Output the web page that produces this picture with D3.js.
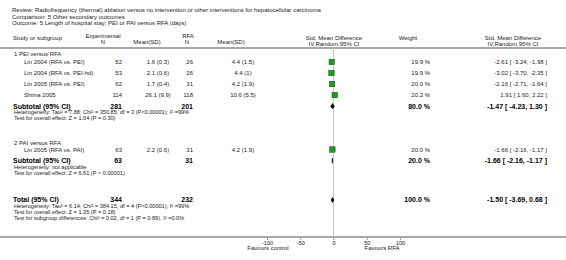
<!DOCTYPE html>
<html>
<head>
<meta charset="utf-8">
<script src="https://cdn.jsdelivr.net/npm/d3@7"></script>
<style>
  body { margin: 0; background: #fff; }
  svg { display: block; }
  text { font-family: "Liberation Sans", Arial, sans-serif; fill: #222; }
  .bold { font-weight: bold; fill: #000; }
</style>
</head>
<body>
<svg id="mainFrame"></svg>
<script>
// ---- data ----
const titleLines = [
    'Review:  Radiofrequency (thermal) ablation versus no intervention or other interventions for hepatocellular carcinoma',
    'Comparison:  5 Other secondary outcomes',
    'Outcome:  5 Length of hospital stay; PEI or PAI versus RFA (days)'
]
const groupNames = ['1 PEI versus RFA', '2 PAI versus RFA']
const studies = ['Lin 2004 (RFA vs. PEI)', 'Lin 2004 (RFA vs. PEI-hd)', 'Lin 2005 (RFA vs. PEI)', 'Shiina 2005', 'Lin 2005 (RFA vs. PAI)']
const studyGroup = [0, 0, 0, 0, 1]
const expN = [52, 53, 62, 114, 63]
const expMean = [1.6, 2.1, 1.7, 26.1, 2.2]
const expSD = [0.3, 0.6, 0.4, 9.9, 0.6]
const rfaN = [26, 26, 31, 118, 31]
const rfaMean = [4.4, 4.4, 4.2, 10.6, 4.2]
const rfaSD = [1.5, 1, 1.9, 5.5, 1.9]
const weights = [19.9, 19.9, 20.0, 20.2, 20.0]
const smd = [-2.61, -3.02, -2.16, 1.91, -1.66]
const ciLow = [-3.24, -3.70, -2.71, 1.60, -2.16]
const ciHigh = [-1.98, -2.35, -1.64, 2.22, -1.17]

const subExpN = [281, 63]
const subRfaN = [201, 31]
const subWeight = [80.0, 20.0]
const subSmd = [-1.47, -1.66]
const subLow = [-4.23, -2.16]
const subHigh = [1.30, -1.17]
const subHet = [
    'Heterogeneity: Tau² = 7.88; Chi² = 350.85, df = 3 (P<0.00001); I² =99%',
    'Heterogeneity: not applicable'
]
const subTest = [
    'Test for overall effect: Z = 1.04 (P = 0.30)',
    'Test for overall effect: Z = 6.61 (P < 0.00001)'
]

const totalExpN = 344
const totalRfaN = 232
const totalWeight = 100.0
const totalSmd = -1.50
const totalLow = -3.69
const totalHigh = 0.68
const totalNotes = [
    'Heterogeneity: Tau² = 6.14; Chi² = 384.15, df = 4 (P<0.00001); I² =99%',
    'Test for overall effect: Z = 1.35 (P = 0.18)',
    'Test for subgroup differences: Chi² = 0.02, df = 1 (P = 0.89), I² =0.0%'
]
const tickValues = [-100, -50, 0, 50, 100]

// ---- layout ----
const width = 566, height = 260
const svg = d3.select('#mainFrame')
    .attr('width', width)
    .attr('height', height)

const col = {
    name: 13, study: 24, expN: 122, expMean: 158, rfaN: 193, rfaMean: 243,
    weight: 430, ci: 547
}
const plotTop = 48, plotBottom = 237

const x = d3.scaleLinear().domain([-100, 100]).range([267, 400])

const fmt2 = v => v.toFixed(2)
const ciText = (m, l, h) => `${fmt2(m)} [ ${fmt2(l)}, ${fmt2(h)} ]`
const wText = w => `${w.toFixed(1)} %`

const addText = (g, str, px, py, opts = {}) => g.append('text')
    .attr('x', px)
    .attr('y', py)
    .attr('dy', '0.35em')
    .attr('font-size', opts.size || 6)
    .attr('text-anchor', opts.anchor || 'start')
    .attr('class', opts.bold ? 'bold' : null)
    .text(str)

// title block
titleLines.forEach((t, i) => addText(svg, t, 12, 10 + i * 6.5, {size: 6}))

// header
const head = svg.append('g')
addText(head, 'Study or subgroup', col.name, 38)
addText(head, 'Experimental', 103, 35.5, {anchor: 'middle'})
addText(head, 'N', 103, 42, {anchor: 'middle'})
addText(head, 'Mean(SD)', 147, 42, {anchor: 'middle'})
addText(head, 'RFA', 188, 35.5, {anchor: 'middle'})
addText(head, 'N', 187, 42, {anchor: 'middle'})
addText(head, 'Mean(SD)', 231, 42, {anchor: 'middle'})
addText(head, 'Std. Mean Difference', 334, 38, {anchor: 'middle'})
addText(head, 'IV,Random,95% CI', 334, 43.5, {anchor: 'middle'})
addText(head, 'Weight', 408, 38, {anchor: 'middle'})
addText(head, 'Std. Mean Difference', 513, 38, {anchor: 'middle'})
addText(head, 'IV,Random,95% CI', 513, 43.5, {anchor: 'middle'})

svg.append('line')
    .attr('x1', 0).attr('x2', width)
    .attr('y1', plotTop).attr('y2', plotTop)
    .attr('stroke', '#a8a8a8').attr('stroke-width', 2)

// zero line
svg.append('line')
    .attr('x1', x(0)).attr('x2', x(0))
    .attr('y1', plotTop).attr('y2', plotBottom)
    .attr('stroke', '#c8c8c8').attr('stroke-width', 1)

// row positions per group
const groupStart = [53.5, 142.5]
const rowStep = 11
const boxSize = d3.scaleSqrt().domain([0, 20]).range([0, 5.5])

const body = svg.append('g')

const diamond = (g, m, l, h, cy) => {
    const hh = 2.6
    g.append('path')
        .attr('d', `M${x(l)},${cy} L${x(m)},${cy - hh} L${x(h)},${cy} L${x(m)},${cy + hh} Z`)
        .attr('fill', '#000')
        .attr('stroke', '#000')
        .attr('stroke-width', 0.6)
}

groupNames.forEach((gName, gi) => {
    const g0 = groupStart[gi]
    addText(body, gName, 14, g0)
    const idx = d3.range(studies.length).filter(i => studyGroup[i] === gi)
    const rowY = i => g0 + (gi === 0 ? 8.5 : 7) + idx.indexOf(i) * rowStep

    idx.forEach(i => {
        const y = rowY(i)
        addText(body, studies[i], col.study, y)
        addText(body, expN[i], col.expN, y, {anchor: 'end'})
        addText(body, `${expMean[i]} (${expSD[i]})`, col.expMean, y, {anchor: 'middle'})
        addText(body, rfaN[i], col.rfaN, y, {anchor: 'end'})
        addText(body, `${rfaMean[i]} (${rfaSD[i]})`, col.rfaMean, y, {anchor: 'middle'})
        addText(body, wText(weights[i]), col.weight, y, {anchor: 'end'})
        addText(body, ciText(smd[i], ciLow[i], ciHigh[i]), col.ci, y, {anchor: 'end'})

        body.append('line')
            .attr('x1', x(ciLow[i])).attr('x2', x(ciHigh[i]))
            .attr('y1', y).attr('y2', y)
            .attr('stroke', '#000').attr('stroke-width', 0.8)
        const s = boxSize(weights[i])
        body.append('rect')
            .attr('x', x(smd[i]) - s / 2)
            .attr('y', y - s / 2)
            .attr('width', s).attr('height', s)
            .attr('fill', '#1f9a1f')
            .attr('stroke', '#0d600d')
            .attr('stroke-width', 0.5)
    })

    const sy = rowY(idx[idx.length - 1]) + 11.2
    addText(body, 'Subtotal (95% CI)', col.name, sy, {bold: true, size: 7})
    addText(body, subExpN[gi], col.expN, sy, {bold: true, size: 7, anchor: 'end'})
    addText(body, subRfaN[gi], col.rfaN, sy, {bold: true, size: 7, anchor: 'end'})
    addText(body, wText(subWeight[gi]), col.weight, sy, {bold: true, size: 7, anchor: 'end'})
    addText(body, ciText(subSmd[gi], subLow[gi], subHigh[gi]), col.ci, sy, {bold: true, size: 7, anchor: 'end'})
    diamond(body, subSmd[gi], subLow[gi], subHigh[gi], sy)
    addText(body, subHet[gi], 14, sy + 6, {size: 5.6})
    addText(body, subTest[gi], 14, sy + 12, {size: 5.6})
})

// overall
const ty = 200
addText(body, 'Total (95% CI)', col.name, ty, {bold: true, size: 7})
addText(body, totalExpN, col.expN, ty, {bold: true, size: 7, anchor: 'end'})
addText(body, totalRfaN, col.rfaN, ty, {bold: true, size: 7, anchor: 'end'})
addText(body, wText(totalWeight), col.weight, ty, {bold: true, size: 7, anchor: 'end'})
addText(body, ciText(totalSmd, totalLow, totalHigh), col.ci, ty, {bold: true, size: 7, anchor: 'end'})
diamond(body, totalSmd, totalLow, totalHigh, ty)
totalNotes.forEach((t, i) => addText(body, t, 14, ty + 6 + i * 6, {size: 5.6}))

// axis
svg.append('line')
    .attr('x1', 0).attr('x2', width)
    .attr('y1', plotBottom).attr('y2', plotBottom)
    .attr('stroke', '#a8a8a8').attr('stroke-width', 2)

const axis = svg.append('g')
    .attr('transform', `translate(0,${plotBottom + 1})`)
    .call(d3.axisBottom(x).tickValues(tickValues).tickSize(2).tickPadding(1).tickFormat(d => d))
axis.select('.domain').remove()
axis.selectAll('line').attr('stroke', '#555').attr('stroke-width', 0.6)
axis.selectAll('text')
    .attr('font-size', 5.6)
    .attr('font-family', '"Liberation Sans", Arial, sans-serif')
    .attr('fill', '#222')

addText(svg, 'Favours control', 268, 248, {anchor: 'middle', size: 6})
addText(svg, 'Favours RFA', 382, 248, {anchor: 'middle', size: 6})
</script>
</body>
</html>
